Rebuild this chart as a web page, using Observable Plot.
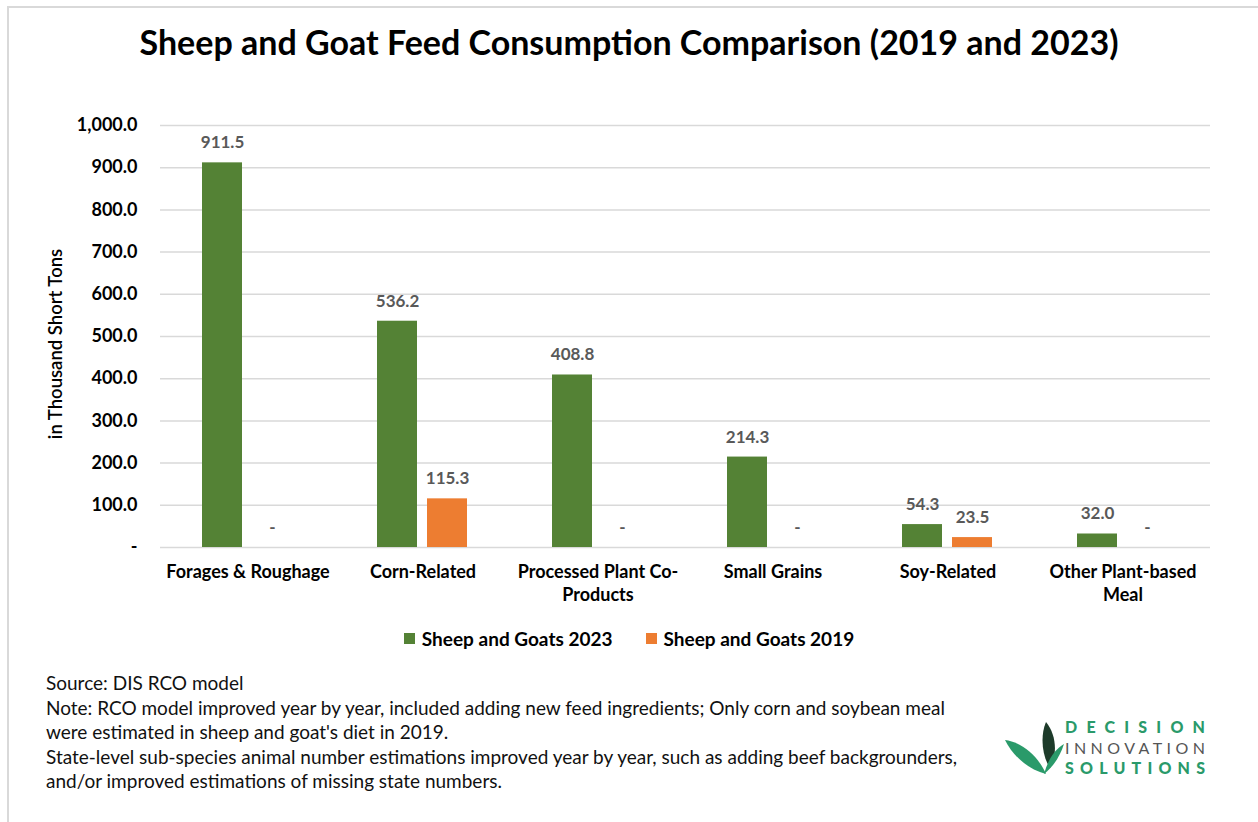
<!DOCTYPE html>
<html>
<head>
<meta charset="utf-8">
<script src="https://cdn.jsdelivr.net/npm/d3@7"></script>
<script src="https://cdn.jsdelivr.net/npm/@observablehq/plot@0.6"></script>
<style>
  html, body { margin: 0; padding: 0; background: #fff; }
  #page { position: relative; width: 1258px; height: 822px; overflow: hidden; font-family: Lato, "Open Sans", sans-serif; color: #000; }
  #frame { position: absolute; left: 7px; top: 6px; width: 1300px; height: 900px; border-left: 2px solid #d9d9d9; border-top: 2px solid #d9d9d9; }
  #title { position: absolute; left: 0; width: 1258px; top: 21px; text-align: center; font-size: 34px; font-weight: 700; }
  #chart { position: absolute; left: 0; top: 90px; }
  #ylabel { position: absolute; left: 55px; top: 344px; transform: translate(-50%, -50%) rotate(-90deg); font-size: 18.5px; font-weight: 600; white-space: nowrap; }
  #legend { position: absolute; left: 0; width: 1258px; top: 627px; display: flex; justify-content: center; gap: 33px; font-size: 19px; font-weight: 700; }
  #legend .item { display: flex; align-items: center; gap: 7px; }
  #legend .sw { width: 11px; height: 11px; display: inline-block; }
  #notes { position: absolute; left: 46px; top: 671px; font-size: 19px; line-height: 24.5px; color: #111; }
  #logo { position: absolute; left: 1000px; top: 712px; }
</style>
</head>
<body>
<div id="page">
  <div id="frame"></div>
  <div id="title">Sheep and Goat Feed Consumption Comparison (2019 and 2023)</div>
  <div id="chart"></div>
  <div id="ylabel">in Thousand Short Tons</div>
  <div id="legend"></div>
  <div id="notes"></div>
  <div id="logo"></div>
</div>
<script>
const categories = ["Forages & Roughage", "Corn-Related", "Processed Plant Co-Products", "Small Grains", "Soy-Related", "Other Plant-based Meal"];
const categoryLabels = ["Forages & Roughage", "Corn-Related", "Processed Plant Co-\nProducts", "Small Grains", "Soy-Related", "Other Plant-based\nMeal"];
const seriesNames = ["Sheep and Goats 2023", "Sheep and Goats 2019"];
const values2023 = [911.5, 536.2, 408.8, 214.3, 54.3, 32.0];
const values2019 = [0, 115.3, 0, 0, 23.5, 0];
const seriesColors = ["#548235", "#ED7D31"];
const yTicks = [0, 100, 200, 300, 400, 500, 600, 700, 800, 900, 1000];
const noteLines = [
  "Source: DIS RCO model",
  "Note: RCO model improved year by year, included adding new feed ingredients; Only corn and soybean meal",
  "were estimated in sheep and goat's diet in 2019.",
  "State-level sub-species animal number estimations improved year by year, such as adding beef backgrounders,",
  "and/or improved estimations of missing state numbers."
];

const data = [];
categories.forEach((c, i) => {
  data.push({category: c, series: seriesNames[0], value: values2023[i]});
  data.push({category: c, series: seriesNames[1], value: values2019[i]});
});

const fmt = d3.format(",.1f");
const labelOf = new Map(categories.map((c, i) => [c, categoryLabels[i]]));

const chart = Plot.plot({
  width: 1258,
  height: 520,
  marginTop: 35,
  marginBottom: 63,
  marginLeft: 159,
  marginRight: 48,
  style: {fontFamily: "Lato, 'Open Sans', sans-serif", fontWeight: "700", fontSize: "18px", color: "#000", background: "transparent"},
  fx: {domain: categories, padding: 0, label: null, axis: null},
  x: {domain: seriesNames, paddingInner: 10 / 51, paddingOuter: 0.815, axis: null},
  y: {domain: [0, 1000], label: null},
  color: {domain: seriesNames, range: seriesColors},
  marks: [
    Plot.gridY(yTicks, {stroke: "#d9d9d9", strokeOpacity: 1, strokeWidth: 1.5}),
    Plot.axisY(yTicks, {tickSize: 0, tickPadding: 23, tickFormat: d => d === 0 ? "-" : fmt(d), label: null, fontSize: 18, fontWeight: 700}),
    Plot.axisFx({anchor: "bottom", tickSize: 0, tickPadding: 13, tickFormat: d => labelOf.get(d), lineHeight: 1.33, label: null, fontSize: 18, fontWeight: 700}),
    Plot.barY(data, {fx: "category", x: "series", y: "value", fill: "series"}),
    Plot.text(data, {fx: "category", x: "series", y: "value", text: d => d.value === 0 ? "-" : fmt(d.value), dy: -20, fill: "#595959", fontSize: 17, fontWeight: 700})
  ]
});
document.getElementById("chart").appendChild(chart);

// legend
const legend = document.getElementById("legend");
seriesNames.forEach((s, i) => {
  const item = document.createElement("div");
  item.className = "item";
  const sw = document.createElement("span");
  sw.className = "sw";
  sw.style.background = seriesColors[i];
  const t = document.createElement("span");
  t.textContent = s;
  item.appendChild(sw); item.appendChild(t);
  legend.appendChild(item);
});

// notes
const notes = document.getElementById("notes");
noteLines.forEach(l => { const d = document.createElement("div"); d.textContent = l; notes.appendChild(d); });

// logo
document.getElementById("logo").innerHTML = `
<svg width="215" height="75" xmlns="http://www.w3.org/2000/svg">
  <path d="M5,28 C22,30 38,44 46,62 C30,58 14,46 5,28 Z" fill="#2a9a6a"/>
  <path d="M46,10 C56,22 58,42 50,56 C42,44 40,24 46,10 Z" fill="#1d3b2a"/>
  <path d="M64,32 C60,44 54,54 44,62 C48,48 54,38 64,32 Z" fill="#2a9a6a"/>
  <text x="65" y="21" textLength="140" lengthAdjust="spacing" font-family="Lato, sans-serif" font-weight="900" font-size="16" fill="#2a9a6a">DECISION</text>
  <text x="65" y="42" textLength="140" lengthAdjust="spacing" font-family="Lato, sans-serif" font-weight="400" font-size="16" fill="#555">INNOVATION</text>
  <text x="65" y="62" textLength="140" lengthAdjust="spacing" font-family="Lato, sans-serif" font-weight="900" font-size="16" fill="#2a9a6a">SOLUTIONS</text>
</svg>`;
</script>
</body>
</html>
